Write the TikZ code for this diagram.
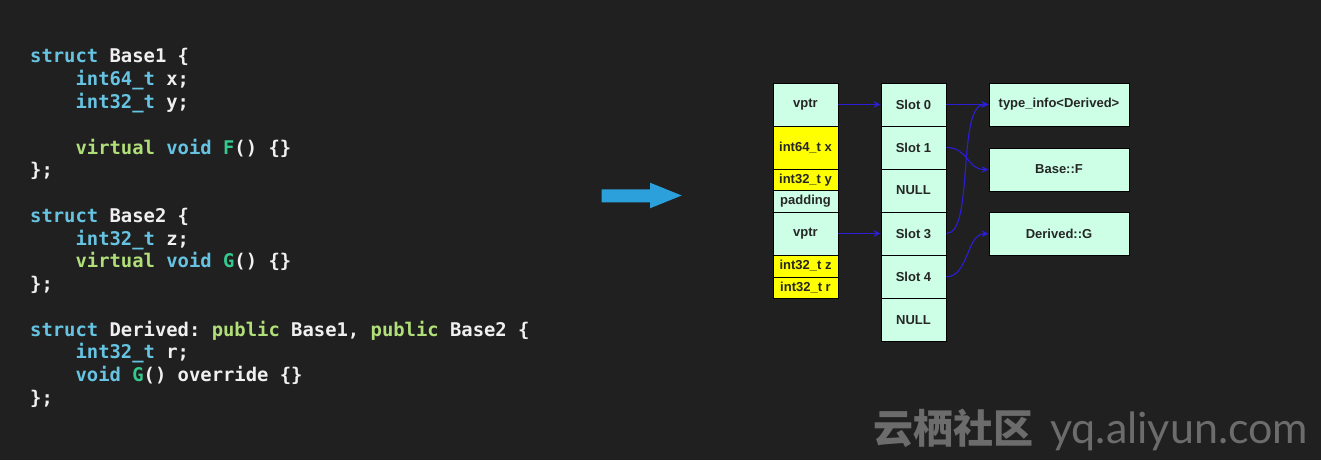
\documentclass[tikz,border=0pt]{standalone}
\usepackage{fontspec}
\setmainfont{Liberation Sans}
\setmonofont{DejaVu Sans Mono}
\newfontfamily\cjkfont{Noto Sans CJK SC}
\newfontfamily\latofont{Lato}
\usetikzlibrary{arrows.meta}
\definecolor{bgc}{RGB}{32,32,32}
\definecolor{codew}{RGB}{240,240,240}
\definecolor{codeb}{RGB}{102,196,226}
\definecolor{codeg}{RGB}{176,222,120}
\definecolor{codef}{RGB}{52,202,142}
\definecolor{mint}{RGB}{204,255,230}
\definecolor{yel}{RGB}{255,255,0}
\definecolor{arrowblue}{RGB}{44,30,214}
\definecolor{bigarrow}{RGB}{43,160,218}
\definecolor{wm}{RGB}{108,108,108}
\newcommand\tyb[1]{\textcolor{codeb}{#1}}
\newcommand\tyg[1]{\textcolor{codeg}{#1}}
\newcommand\tyf[1]{\textcolor{codef}{#1}}
\begin{document}
\begin{tikzpicture}[x=1pt,y=-1pt,
  code/.style={anchor=base west,inner sep=0pt,text=codew,font=\ttfamily\bfseries\fontsize{18.85}{22}\selectfont},
  cell/.style={draw=black,line width=0.9pt,fill=mint,inner sep=0pt,minimum width=65pt,text=black!85,font=\bfseries\fontsize{13}{15}\selectfont},
  ycell/.style={cell,fill=yel},
  fcell/.style={cell,minimum width=140pt},
  ptr/.style={draw=arrowblue,line width=1.1pt,-{Stealth[length=7pt,width=6.5pt]}}
]
\useasboundingbox[fill=bgc] (0,0) rectangle (1321,460);

% code
\node[code] (c1) at (30,63) {\tyb{struct} Base1 \{};
\node[code] (c2) at (75.4,85.75) {\tyb{int64\_t} x;};
\node[code] (c3) at (75.4,108.5) {\tyb{int32\_t} y;};
\node[code] (c5) at (75.4,154) {\tyg{virtual} \tyb{void} \tyf{F}() \{\}};
\node[code] (c6) at (30,176.75) {\};};
\node[code] (c8) at (30,222.25) {\tyb{struct} Base2 \{};
\node[code] (c9) at (75.4,245) {\tyb{int32\_t} z;};
\node[code] (c10) at (75.4,267.75) {\tyg{virtual} \tyb{void} \tyf{G}() \{\}};
\node[code] (c11) at (30,290.5) {\};};
\node[code] (c13) at (30,336) {\tyb{struct} Derived: \tyg{public} Base1, \tyg{public} Base2 \{};
\node[code] (c14) at (75.4,358.75) {\tyb{int32\_t} r;};
\node[code] (c15) at (75.4,381.5) {\tyb{void} \tyf{G}() override \{\}};
\node[code] (c16) at (30,404.25) {\};};

% big arrow
\fill[bigarrow] (601.7,189.3) -- (650,189.3) -- (650,182.7) -- (681.7,195.5) -- (650,208.3) -- (650,202.3) -- (601.7,202.3) -- cycle;

% left column (object layout)
\node[cell,minimum height=43pt] (lv1) at (805.5,104.5) {vptr};
\node[ycell,minimum height=43pt] (lx) at (805.5,147.5) {int64\_t x};
\node[ycell,minimum height=21.5pt] (ly) at (805.5,179.75) {int32\_t y};
\node[cell,minimum height=21.5pt] (lpad) at (805.5,201.25) {padding};
\node[cell,minimum height=43pt] (lv2) at (805.5,233.5) {vptr};
\node[ycell,minimum height=22pt] (lz) at (805.5,266) {int32\_t z};
\node[ycell,minimum height=21.5pt] (lr) at (805.5,287.75) {int32\_t r};

% middle column (vtable)
\node[cell,minimum height=43pt] (s0) at (913.5,104.5) {Slot 0};
\node[cell,minimum height=43pt] (s1) at (913.5,147.5) {Slot 1};
\node[cell,minimum height=43pt] (n1) at (913.5,190.5) {NULL};
\node[cell,minimum height=43pt] (s3) at (913.5,233.5) {Slot 3};
\node[cell,minimum height=43.5pt] (s4) at (913.5,276.75) {Slot 4};
\node[cell,minimum height=43pt] (n2) at (913.5,320) {NULL};

% right column
\node[fcell,minimum height=43pt] (ti) at (1059,104.5) {type\_info<Derived>};
\node[fcell,minimum height=43pt] (bf) at (1059,169.5) {Base::F};
\node[fcell,minimum height=43.5pt] (dg) at (1059,233.75) {Derived::G};

% pointers
\draw[ptr] (lv1.east) -- (s0.west);
\draw[ptr] (lv2.east) -- (s3.west);
\draw[ptr] (s0.east) -- (ti.west);
\draw[ptr] (s1.east) .. controls +(22,0) and +(-22,0) .. (bf.west);
\draw[ptr] (s3.east) .. controls +(28,0) and +(-32,0) .. (ti.west);
\draw[ptr] (s4.east) .. controls +(22,0) and +(-22,0) .. (dg.west);

% watermark
\node[anchor=base west,inner sep=0pt,text=wm,font=\cjkfont\bfseries\fontsize{40}{44}\selectfont] (wm1) at (873,443) {云栖社区};
\node[anchor=base west,inner sep=0pt,text=wm,font=\latofont\fontsize{43}{46}\selectfont] (wm2) at (1050,443) {yq.aliyun.com};
\end{tikzpicture}
\end{document}
